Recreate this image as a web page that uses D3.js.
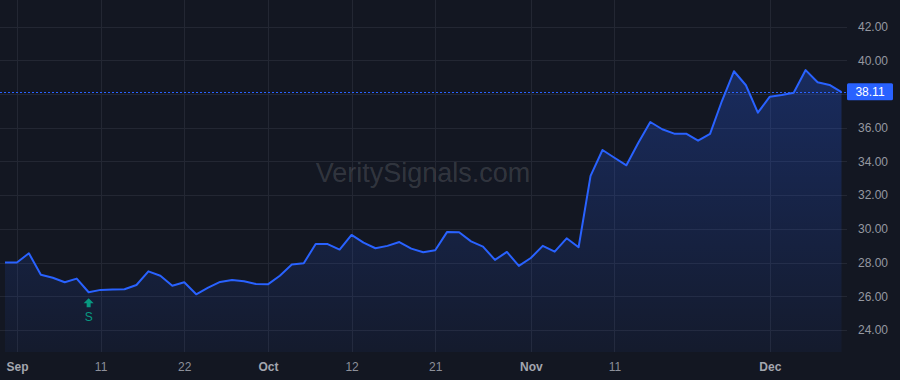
<!DOCTYPE html>
<html>
<head>
<meta charset="utf-8">
<script src="https://cdn.jsdelivr.net/npm/d3@7"></script>
<style>
html,body{margin:0;padding:0;background:#131722;}
svg{display:block;}
</style>
</head>
<body>
<svg id="chart" width="900" height="380"></svg>
<script>
const dates = [
"2020-08-31",
"2020-09-01","2020-09-02","2020-09-03","2020-09-04","2020-09-08","2020-09-09","2020-09-10","2020-09-11",
"2020-09-14","2020-09-15","2020-09-16","2020-09-17","2020-09-18","2020-09-21","2020-09-22","2020-09-23",
"2020-09-24","2020-09-25","2020-09-28","2020-09-29","2020-09-30",
"2020-10-01","2020-10-02","2020-10-05","2020-10-06","2020-10-07","2020-10-08","2020-10-09","2020-10-12",
"2020-10-13","2020-10-14","2020-10-15","2020-10-16","2020-10-19","2020-10-20","2020-10-21","2020-10-22",
"2020-10-23","2020-10-26","2020-10-27","2020-10-28","2020-10-29","2020-10-30",
"2020-11-02","2020-11-03","2020-11-04","2020-11-05","2020-11-06","2020-11-09","2020-11-10","2020-11-11",
"2020-11-12","2020-11-13","2020-11-16","2020-11-17","2020-11-18","2020-11-19","2020-11-20","2020-11-23",
"2020-11-24","2020-11-25","2020-11-27","2020-11-30",
"2020-12-01","2020-12-02","2020-12-03","2020-12-04","2020-12-07","2020-12-08","2020-12-09"
];
const prices = [
28.00,
28.00,28.55,27.28,27.10,26.83,27.05,26.24,26.38,
26.40,26.42,26.67,27.48,27.22,26.63,26.83,26.12,
26.51,26.85,26.97,26.89,26.73,
26.71,27.22,27.88,27.96,29.10,29.10,28.77,29.64,
29.18,28.85,28.99,29.22,28.83,28.61,28.73,29.82,
29.80,29.26,28.95,28.16,28.63,27.80,
28.27,28.99,28.65,29.44,28.91,33.14,34.68,34.22,
33.77,35.11,36.34,35.91,35.65,35.65,35.23,35.63,
37.60,39.35,38.52,36.89,
37.84,37.94,38.08,39.42,38.70,38.54,38.11
];
const tickDates  = ["2020-09-01","2020-09-11","2020-09-22","2020-10-01","2020-10-12","2020-10-21","2020-11-02","2020-11-11","2020-12-01"];
const tickLabels = ["Sep","11","22","Oct","12","21","Nov","11","Dec"];
const monthTicks = ["Sep","Oct","Nov","Dec"];
const yTicks = [24,26,28,30,32,34,36,38,40,42];
const signalDates = ["2020-09-10"];
const signalLabels = ["S"];
const watermark = "VeritySignals.com";

const W = 900, H = 380;
const plotRight = 847, plotBottom = 352;
const svg = d3.select("#chart");

const x = d3.scalePoint().domain(dates).range([5, 841.5]);
const y = d3.scaleLinear().domain([24, 40]).range([330, 60.3]);

svg.append("rect").attr("width", W).attr("height", H).attr("fill", "#131722");

const defs = svg.append("defs");
const grad = defs.append("linearGradient").attr("id","fillGrad").attr("x1",0).attr("x2",0)
  .attr("gradientUnits","userSpaceOnUse").attr("y1", y(40)).attr("y2", plotBottom);
grad.append("stop").attr("offset","0%").attr("stop-color","#2962ff").attr("stop-opacity",0.28);
grad.append("stop").attr("offset","100%").attr("stop-color","#2962ff").attr("stop-opacity",0.05);

// grid
const grid = svg.append("g");
grid.selectAll("line.h").data(yTicks).join("line")
  .attr("x1", 0).attr("x2", plotRight)
  .attr("y1", d => Math.round(y(d)) + 0.5).attr("y2", d => Math.round(y(d)) + 0.5)
  .attr("stroke", "#232733").attr("stroke-width", 1);
grid.selectAll("line.v").data(tickDates).join("line")
  .attr("x1", d => Math.round(x(d)) + 0.5).attr("x2", d => Math.round(x(d)) + 0.5)
  .attr("y1", 0).attr("y2", plotBottom)
  .attr("stroke", "#232733").attr("stroke-width", 1);

// watermark
svg.append("text").attr("x", 423).attr("y", 182).attr("text-anchor","middle")
  .attr("font-family","Liberation Sans, Arial, sans-serif").attr("font-size", 27)
  .attr("fill", "rgba(255,255,255,0.14)").text(watermark);

// area
const data = dates.map((d,i) => ({d, v: prices[i]}));
svg.append("path").datum(data)
  .attr("d", d3.area().x(p => x(p.d)).y0(plotBottom).y1(p => y(p.v)))
  .attr("fill", "url(#fillGrad)");

// line
svg.append("path").datum(data)
  .attr("d", d3.line().x(p => x(p.d)).y(p => y(p.v)))
  .attr("fill", "none").attr("stroke", "#2962ff").attr("stroke-width", 2)
  .attr("stroke-linejoin","round");

// last price dashed line
const last = prices[prices.length-1];
svg.append("line").attr("x1", 0).attr("x2", plotRight)
  .attr("y1", Math.round(y(last))+0.5).attr("y2", Math.round(y(last))+0.5)
  .attr("stroke", "#2962ff").attr("stroke-width", 1).attr("stroke-dasharray","2,2");

// y axis (labels hidden where the last-price label sits)
const ly = y(last);
const yLabelTicks = yTicks.filter(t => Math.abs(y(t) - ly) > 12);
const yAxis = d3.axisRight(y).tickValues(yLabelTicks).tickFormat(d3.format(".2f")).tickSize(0).tickPadding(0);
const yg = svg.append("g").attr("transform", `translate(${plotRight+11},0)`).call(yAxis);
yg.select(".domain").remove();
yg.selectAll("text").attr("fill","#9598a1").attr("font-family","Liberation Sans, Arial, sans-serif").attr("font-size", 12);

// last price label
svg.append("rect").attr("x", plotRight).attr("y", ly - 9).attr("width", 46).attr("height", 17).attr("rx", 1.5)
  .attr("fill", "#2962ff");
svg.append("text").attr("x", plotRight + 23).attr("y", ly + 4).attr("text-anchor","middle")
  .attr("fill","#ffffff").attr("font-family","Liberation Sans, Arial, sans-serif").attr("font-size", 12)
  .text(d3.format(".2f")(last));

// x axis
const xAxis = d3.axisBottom(x).tickValues(tickDates)
  .tickFormat(d => tickLabels[tickDates.indexOf(d)]).tickSize(0).tickPadding(0);
const xg = svg.append("g").attr("transform", `translate(0,${plotBottom+10})`).call(xAxis);
xg.select(".domain").remove();
xg.selectAll("text")
  .attr("fill", d => monthTicks.includes(tickLabels[tickDates.indexOf(d)]) ? "#a3a6af" : "#8d909a")
  .attr("font-weight", d => monthTicks.includes(tickLabels[tickDates.indexOf(d)]) ? "bold" : "normal")
  .attr("font-family","Liberation Sans, Arial, sans-serif").attr("font-size", 12);

// signal markers
const sg = svg.append("g");
signalDates.forEach((sd, i) => {
  const sx = x(sd);
  const idx = dates.indexOf(sd);
  const top = y(prices[idx]) + 6;
  sg.append("path")
    .attr("d", `M${sx},${top} L${sx+5},${top+5} L${sx+2},${top+5} L${sx+2},${top+9} L${sx-2},${top+9} L${sx-2},${top+5} L${sx-5},${top+5} Z`)
    .attr("fill", "#089981");
  sg.append("text").attr("x", sx).attr("y", top + 23).attr("text-anchor","middle")
    .attr("fill","#089981").attr("font-family","Liberation Sans, Arial, sans-serif").attr("font-size", 12)
    .text(signalLabels[i]);
});
</script>
</body>
</html>
